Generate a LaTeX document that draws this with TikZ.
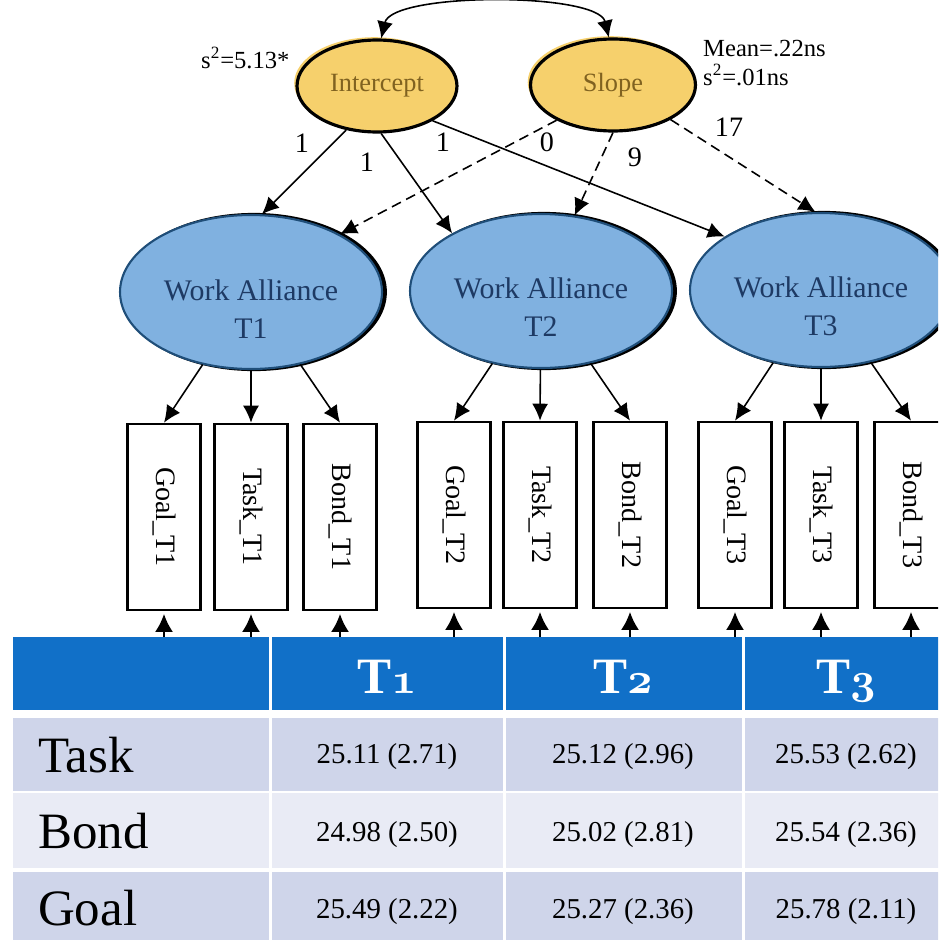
\documentclass[tikz,border=0pt]{standalone}
\usepackage{fontspec}
\setmainfont{Liberation Serif}
\usetikzlibrary{shapes.geometric,arrows.meta}
\definecolor{growthyellow}{RGB}{246,208,108}
\definecolor{growthtext}{RGB}{128,98,32}
\definecolor{allianceblue}{RGB}{128,177,224}
\definecolor{allianceedge}{RGB}{31,78,121}
\definecolor{alliancetext}{RGB}{30,58,100}
\definecolor{headblue}{RGB}{17,112,200}
\definecolor{rowdark}{RGB}{207,213,234}
\definecolor{rowlight}{RGB}{233,235,245}
\newcommand{\osnum}[1]{{\fontencoding{OML}\fontfamily{cmm}\fontseries{b}\fontshape{it}\selectfont #1}}
\begin{document}
\begin{tikzpicture}[x=0.02cm, y=-0.02cm,
        growth/.style={ellipse, draw=black, line width=1.8pt, fill=growthyellow, text=growthtext, inner sep=0pt, minimum height=1.84cm,
            preaction={fill=growthyellow, transform canvas={xshift=-1.6pt, yshift=1.6pt}}, font=\rmfamily\fontsize{15pt}{18pt}\selectfont},
        alliance/.style={ellipse, draw=allianceedge, line width=1.2pt, fill=allianceblue, inner sep=0pt, minimum width=5.24cm, minimum height=3.08cm,
            preaction={draw=black, line width=2.4pt, transform canvas={xshift=1.6pt}}},
        alliancelabel/.style={align=center, text=alliancetext, font=\rmfamily\fontsize{17pt}{21.5pt}\selectfont},
        indicator/.style={rectangle, draw=black, line width=1.5pt, fill=white, rotate=-90, minimum width=3.72cm, minimum height=1.46cm, inner sep=0pt, font=\rmfamily\fontsize{16pt}{19pt}\selectfont},
        load/.style={-{Latex[length=0.34cm,width=0.32cm]}, line width=0.9pt},
        slopeload/.style={load, dash pattern=on 0.2cm off 0.12cm},
        errload/.style={-{Latex[length=0.36cm,width=0.36cm]}, line width=1.1pt, shorten >=1.5pt},
        mutual/.style={{Latex[length=0.34cm,width=0.32cm]}-{Latex[length=0.34cm,width=0.32cm]}, line width=0.9pt},
        coef/.style={font=\fontsize{16pt}{19pt}\selectfont},
        stat/.style={anchor=base west, font=\fontsize{14pt}{17pt}\selectfont},
        headtext/.style={anchor=base, text=white, font=\fontsize{29pt}{34pt}\selectfont\bfseries},
        rowlabel/.style={anchor=base west, font=\fontsize{29pt}{34pt}\selectfont},
        cell/.style={anchor=base, font=\rmfamily\fontsize{16.4pt}{19pt}\selectfont}]
    \useasboundingbox (0,0) rectangle (938,940);
    \clip (0,0) rectangle (938,940);
    \fill[white] (0,0) rectangle (938,940);
    % Growth factors
    \node[growth, minimum width=3.2cm] (icpt) at (377,86) {Intercept};
    \node[growth, minimum width=3.3cm] (slope) at (613,85) {Slope};
    \node[stat] (icptvar) at (195,68) {s\textsuperscript{2}=5.13*};
    \node[stat] (slopemean) at (697,56) {Mean=.22ns};
    \node[stat] (slopevar) at (697,85) {s\textsuperscript{2}=.01ns};
    \draw[mutual] (icpt.85) .. controls (392,-8) and (598,-8) .. (slope.95);
    % Latent alliance
    \node[alliance] (wa1) at (251,292) {};
    \node[alliance] (wa2) at (541,291) {};
    \node[alliance] (wa3) at (821,290) {};
    \node[alliancelabel] (wa1text) at (251,309) {Work Alliance\\T1};
    \node[alliancelabel] (wa2text) at (541,307) {Work Alliance\\T2};
    \node[alliancelabel] (wa3text) at (821,306) {Work Alliance\\T3};
    % Loadings
    \draw[load] (icpt.235) -- (wa1.82);
    \draw[load] (icpt.275) -- (wa2.147);
    \draw[load] (icpt.328) -- (wa3.151);
    \draw[slopeload] (slope.212) -- (wa1.33);
    \draw[slopeload] (slope.270) -- (wa2.66);
    \draw[slopeload] (slope.329) -- (wa3.94);
    \node[coef] (li1) at (302,143) {1};
    \node[coef] (li2) at (367,162) {1};
    \node[coef] (li3) at (443,142) {1};
    \node[coef] (ls1) at (547,142) {0};
    \node[coef] (ls2) at (635,157) {9};
    \node[coef] (ls3) at (729,127) {17};
    % Indicators
    \node[indicator] (goal1) at (164,517) {Goal\_T1};
    \node[indicator] (task1) at (251,517) {Task\_T1};
    \node[indicator] (bond1) at (340,517) {Bond\_T1};
    \node[indicator] (goal2) at (454,515) {Goal\_T2};
    \node[indicator] (task2) at (540,515) {Task\_T2};
    \node[indicator] (bond2) at (630,515) {Bond\_T2};
    \node[indicator] (goal3) at (735,515) {Goal\_T3};
    \node[indicator] (task3) at (821,515) {Task\_T3};
    \node[indicator] (bond3) at (911,515) {Bond\_T3};
    \foreach \t in {1,2,3} {
        \draw[load] (wa\t) -- (goal\t.west);
        \draw[load] (wa\t) -- (task\t.west);
        \draw[load] (wa\t) -- (bond\t.west);
    }
    \foreach \n in {goal1,task1,bond1,goal2,task2,bond2,goal3,task3,bond3}
        \draw[errload] (\n.east) ++(0,34) coordinate (\n err) -- (\n.east);
    % Table of means
    \foreach \xa/\xb in {13/269, 272/503, 506/742, 745/950} {
        \fill[headblue] (\xa,637) rectangle (\xb,710);
        \fill[rowdark] (\xa,718) rectangle (\xb,791);
        \fill[rowlight] (\xa,793) rectangle (\xb,868);
        \fill[rowdark] (\xa,872) rectangle (\xb,950);
    }
    \node[headtext] (h1) at (387,693) {T\osnum{1}};
    \node[headtext] (h2) at (623,693) {T\osnum{2}};
    \node[headtext] (h3) at (846,693) {T\osnum{3}};
    \node[rowlabel] (rtask) at (32,772) {Task};
    \node[rowlabel] (rbond) at (32,848) {Bond};
    \node[rowlabel] (rgoal) at (32,925) {Goal};
    \node[cell] (c11) at (387,763) {25.11 (2.71)};
    \node[cell] (c12) at (623,763) {25.12 (2.96)};
    \node[cell] (c13) at (846,763) {25.53 (2.62)};
    \node[cell] (c21) at (387,841) {24.98 (2.50)};
    \node[cell] (c22) at (623,841) {25.02 (2.81)};
    \node[cell] (c23) at (846,841) {25.54 (2.36)};
    \node[cell] (c31) at (387,918) {25.49 (2.22)};
    \node[cell] (c32) at (623,918) {25.27 (2.36)};
    \node[cell] (c33) at (846,918) {25.78 (2.11)};
\end{tikzpicture}
\end{document}
